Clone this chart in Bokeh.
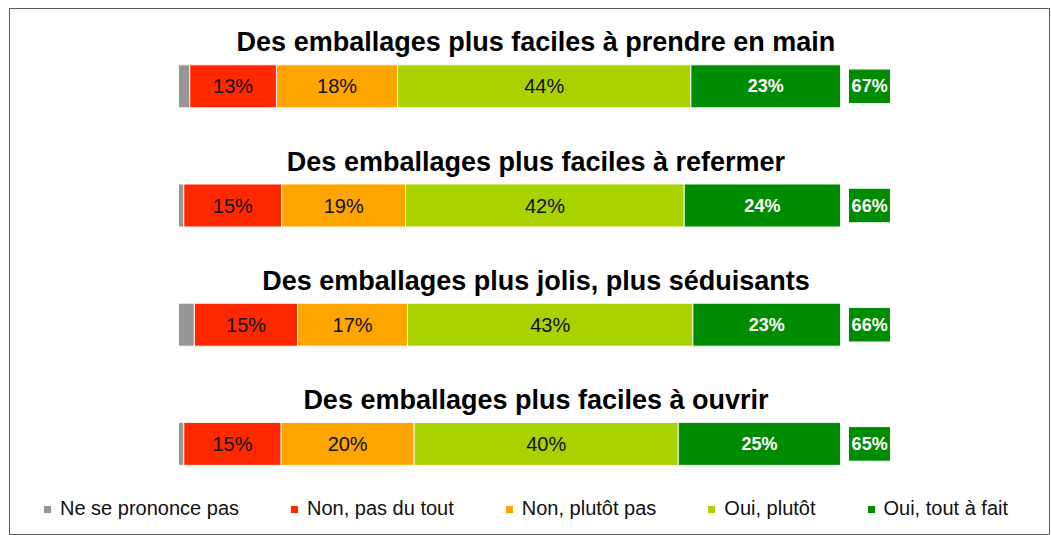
import numpy as np
from bokeh.plotting import figure
from bokeh.models import ColumnDataSource, Range1d, Legend
from bokeh.core.properties import value
from bokeh.embed import file_html
from bokeh.resources import INLINE

# ---------------- data ----------------
categories = [
    "Des emballages plus faciles à prendre en main",
    "Des emballages plus faciles à refermer",
    "Des emballages plus jolis, plus séduisants",
    "Des emballages plus faciles à ouvrir",
]
series_names = ["Ne se prononce pas", "Non, pas du tout", "Non, plutôt pas",
                "Oui, plutôt", "Oui, tout à fait"]
nsp        = [1.7, 0.8, 2.4, 0.8]
non_pas    = [13.1, 14.8, 15.6, 14.7]
non_plutot = [18.3, 18.7, 16.6, 20.1]
oui_plutot = [44.3, 42.1, 43.1, 39.9]
oui_tout   = [22.6, 23.6, 22.3, 24.5]
label_non_pas    = ["13%", "15%", "15%", "15%"]
label_non_plutot = ["18%", "19%", "17%", "20%"]
label_oui_plutot = ["44%", "42%", "43%", "40%"]
label_oui_tout   = ["23%", "24%", "23%", "25%"]
totals_oui       = ["67%", "66%", "66%", "65%"]

colors = ["#969696", "#FF2800", "#FFA500", "#AAD200", "#008C00"]
FONT_NAME = "Liberation Sans"
FONT = value(FONT_NAME)

W, H = 1050, 535
ML, MR, MT, MB = 9, 1, 8, 0
FW, FH = W - ML - MR, H - MT - MB
px_per_pct = 6.62
x0_px = 169
y0_px, y_step = 77.8, 119.2

p = figure(width=W, height=H, output_backend="svg", toolbar_location=None,
           min_border_left=ML, min_border_right=MR,
           min_border_top=MT, min_border_bottom=MB)
p.x_range = Range1d(-x0_px / px_per_pct, (FW - x0_px) / px_per_pct)
p.y_range = Range1d((FH - y0_px) / y_step, -y0_px / y_step)
p.axis.visible = False
p.grid.visible = False
p.outline_line_color = "#5a5a5a"
p.outline_line_width = 1
p.background_fill_color = "white"
p.border_fill_color = "white"

ys = list(range(len(categories)))
keys = ["nsp", "non_pas", "non_plutot", "oui_plutot", "oui_tout"]
src = ColumnDataSource(dict(y=ys, nsp=nsp, non_pas=non_pas, non_plutot=non_plutot,
                            oui_plutot=oui_plutot, oui_tout=oui_tout))
renderers = p.hbar_stack(keys, y="y", height=0.36, color=colors, source=src,
                         line_color="white", line_width=1, line_alpha=0.9)

# segment labels
vals = np.array([nsp, non_pas, non_plutot, oui_plutot, oui_tout])
cum = np.cumsum(vals, axis=0)
mids = cum - vals / 2
lab_src = ColumnDataSource(dict(
    x=list(mids[1]) + list(mids[2]) + list(mids[3]),
    y=ys * 3,
    t=label_non_pas + label_non_plutot + label_oui_plutot))
p.text(x="x", y="y", text="t", source=lab_src, text_align="center",
       text_baseline="middle", text_font=FONT, text_font_size="20px",
       text_color="#111111")
g_src = ColumnDataSource(dict(x=list(mids[4]), y=ys, t=label_oui_tout))
p.text(x="x", y="y", text="t", source=g_src, text_align="center",
       text_baseline="middle", text_font=FONT, text_font_size="18px",
       text_font_style="bold", text_color="white")

# total boxes
tot_src = ColumnDataSource(dict(y=ys, t=totals_oui))
p.hbar(y="y", left=101.2, right=107.55, height=0.29, source=tot_src,
       color=colors[4], line_color="white", line_width=1)
p.text(x=104.4, y="y", text="t", source=tot_src, text_align="center",
       text_baseline="middle", text_font=FONT, text_font_size="18px",
       text_font_style="bold", text_color="white")

# titles
title_src = ColumnDataSource(dict(y=[v - 0.369 for v in ys], t=categories))
p.text(x=54.0, y="y", text="t", source=title_src, text_align="center",
       text_baseline="middle", text_font=FONT, text_font_size="27px",
       text_font_style="bold", text_color="#000000")

legend = Legend(items=[(n, [r]) for n, r in zip(series_names, renderers)],
                orientation="horizontal", location=(33, 15), padding=0, margin=0,
                spacing=50, glyph_width=10, glyph_height=10, label_standoff=8,
                label_text_font=FONT_NAME, label_text_font_size="20px",
                label_text_color="#111111", label_height=20,
                border_line_color=None, background_fill_alpha=0)
p.add_layout(legend, "center")

open("out.html", "w").write(file_html(p, INLINE))
